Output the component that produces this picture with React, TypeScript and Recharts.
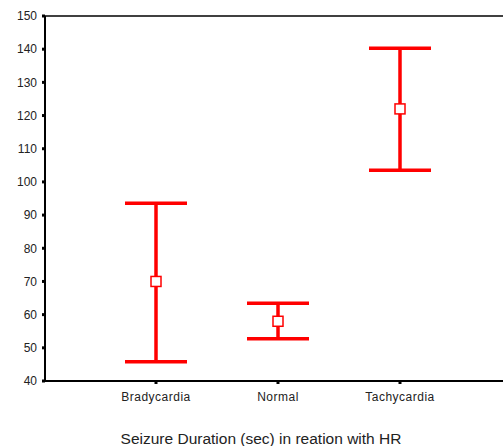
import React from 'react';
import {
  ComposedChart,
  Scatter,
  ErrorBar,
  XAxis,
  YAxis,
  ReferenceLine,
  Label,
} from 'recharts';

const groups = ['Bradycardia', 'Normal', 'Tachycardia'];
const means = [70, 58, 122];
const lowerBounds = [45.8, 52.7, 103.5];
const upperBounds = [93.6, 63.4, 140.3];
const yTicks = [40, 50, 60, 70, 80, 90, 100, 110, 120, 130, 140, 150];

const data = groups.map((g, i) => ({
  group: g,
  mean: means[i],
  err: [means[i] - lowerBounds[i], upperBounds[i] - means[i]],
}));

const RED = '#ff0000';
const FONT = '"Liberation Sans", Arial, sans-serif';

const MeanMarker = (props: any) => {
  const { cx, cy } = props;
  if (cx == null || cy == null) return null;
  return <rect x={cx - 5} y={cy - 5} width={10} height={10} fill="#fff" stroke={RED} strokeWidth={1.5} />;
};

export default function App() {
  return (
    <div style={{ position: 'absolute', left: 0, top: 0, background: '#fff' }}>
      <ComposedChart
        width={503}
        height={446}
        data={data}
        margin={{ top: 16, right: 0, bottom: 0, left: 0 }}
      >
        <ReferenceLine y={150} stroke="#000" strokeWidth={1.5} />
        <XAxis
          dataKey="group"
          type="category"
          height={65}
          padding={{ left: 111, right: 103 }}
          axisLine={{ stroke: '#000', strokeWidth: 2 }}
          tickLine={{ stroke: '#000', strokeWidth: 3 }}
          tickSize={3}
          tickMargin={8}
          tick={{ fill: '#222', fontSize: 12, fontFamily: FONT, letterSpacing: 0.5 }}
        >
          <Label
            value="Seizure Duration (sec) in reation with HR"
            position="insideBottom"
            offset={2}
            dx={-13}
            style={{ fill: '#222', fontSize: 15.5, fontFamily: FONT }}
          />
        </XAxis>
        <YAxis
          type="number"
          domain={[40, 150]}
          ticks={yTicks}
          interval={0}
          width={45}
          axisLine={{ stroke: '#000', strokeWidth: 2 }}
          tickLine={{ stroke: '#000', strokeWidth: 3 }}
          tickSize={3}
          tickMargin={5}
          tick={{ fill: '#222', fontSize: 12, fontFamily: FONT }}
        />
        <Scatter dataKey="mean" isAnimationActive={false} shape={<MeanMarker />}>
          <ErrorBar dataKey="err" width={31} stroke={RED} strokeWidth={3.5} direction="y" />
        </Scatter>
      </ComposedChart>
    </div>
  );
}
